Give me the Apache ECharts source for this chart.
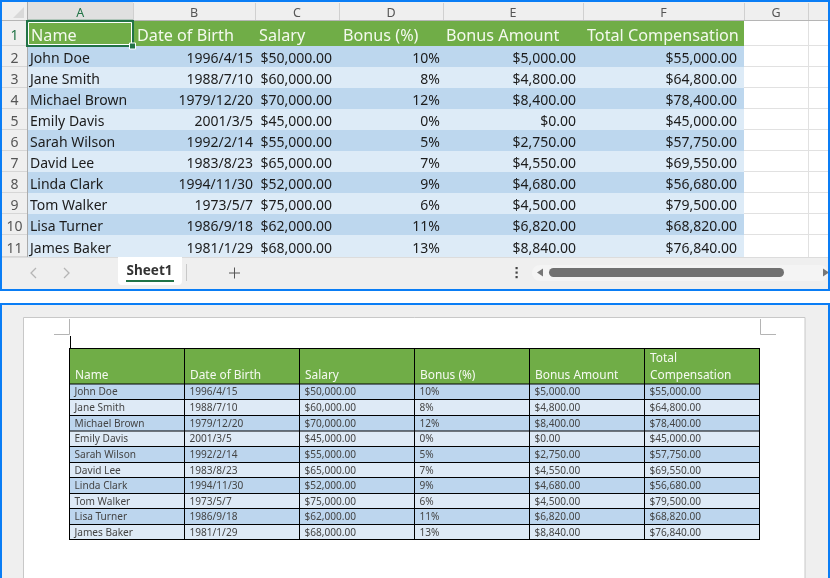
<!DOCTYPE html>
<html><head><meta charset="utf-8">
<style>html,body{margin:0;padding:0;background:#fff}#c{width:830px;height:578px}</style>
<script src="https://cdn.jsdelivr.net/npm/echarts@6/dist/echarts.min.js"></script>
</head><body><div id="c"></div>
<script>
// ---------- data ----------
const headers = ["Name","Date of Birth","Salary","Bonus (%)","Bonus Amount","Total Compensation"];
const names = ["John Doe","Jane Smith","Michael Brown","Emily Davis","Sarah Wilson","David Lee","Linda Clark","Tom Walker","Lisa Turner","James Baker"];
const birthDates = ["1996/4/15","1988/7/10","1979/12/20","2001/3/5","1992/2/14","1983/8/23","1994/11/30","1973/5/7","1986/9/18","1981/1/29"];
const salaries = [50000,60000,70000,45000,55000,65000,52000,75000,62000,68000];
const bonusPct = [10,8,12,0,5,7,9,6,11,13];
const bonusAmount = [5000,4800,8400,0,2750,4550,4680,4500,6820,8840];
const totalComp = [55000,64800,78400,45000,57750,69550,56680,79500,68820,76840];
const colLetters = ["A","B","C","D","E","F","G"];

// ---------- layout ----------
const money = v => "$" + v.toLocaleString("en-US",{minimumFractionDigits:2,maximumFractionDigits:2});
const rowsText = names.map((n,i)=>[n,birthDates[i],money(salaries[i]),bonusPct[i]+"%",money(bonusAmount[i]),money(totalComp[i])]);
const FONT = "'Noto Sans', sans-serif";
const GREEN="#70ad47", DARK="#bdd7ee", LIGHT="#ddebf7", XLG="#217346";

const xlCols=[27.5,133,255,339,443,583,744];
const xlRows=[21,46,67,88,109,130,151,172,193,214,235,257];
const xlHeadX=[31,137,259,343,446,587];
const xlDataX=[30,253,332,440,576,737];
const xlAlign=["left","right","right","right","right","right"];

const wdCols=[69.5,184.5,299.5,414.5,529.5,644.5,759.5];
const wdRows=[348.5,384,399.5,415.5,431,446.5,462.5,477.5,493.5,508.5,524.5,539.5];

function rectEl(api,x0,y0,x1,y1,style){
  const a=api.coord([x0,y0]),b=api.coord([x1,y1]);
  return {type:'rect',shape:{x:a[0],y:a[1],width:b[0]-a[0],height:b[1]-a[1]},style:style};
}
function textEl(api,x,y,t,size,color,align,weight){
  const p=api.coord([x,y]);
  return {type:'text',x:p[0],y:p[1],style:{text:t,fill:color,font:(weight||'normal')+' '+size+'px '+FONT,textAlign:align,textVerticalAlign:'middle'}};
}
function lineEl(api,x0,y0,x1,y1,color,w){
  const a=api.coord([x0,y0]),b=api.coord([x1,y1]);
  return {type:'line',shape:{x1:a[0],y1:a[1],x2:b[0],y2:b[1]},style:{stroke:color,lineWidth:w||1}};
}

function renderExcel(params,api){
  const r=params.dataIndex, kids=[];
  const y0=xlRows[r], y1=xlRows[r+1], n=xlCols.length-1;
  const fill=r===0?GREEN:(r%2?DARK:LIGHT);
  kids.push(rectEl(api,xlCols[0],y0,xlCols[n],y1,{fill}));
  kids.push(rectEl(api,0,y0,27,y1,{fill:'#efefef'}));
  kids.push(lineEl(api,2,y1-0.5,27,y1-0.5,'#d6d6d6'));
  kids.push(textEl(api,14.5,(y0+y1)/2+3,String(r+1),14,r===0?XLG:'#555','center'));
  // empty sheet gridlines
  if(r<xlRows.length-2) kids.push(lineEl(api,744,y1-0.5,828,y1-0.5,'#e1e1e1'));
  kids.push(lineEl(api,808.5,y0,808.5,y1,'#e1e1e1'));
  for(let c=0;c<6;c++){
    if(r===0) kids.push(textEl(api,xlHeadX[c],(y0+y1)/2+3,headers[c],16.2,'#f4f9ee','left'));
    else kids.push(textEl(api,xlDataX[c],(y0+y1)/2+3,rowsText[r-1][c],14,'#1c1c1c',xlAlign[c]));
  }
  return {type:'group',children:kids};
}
function renderWord(params,api){
  const r=params.dataIndex, kids=[];
  const y0=wdRows[r], y1=wdRows[r+1];
  const fill=r===0?GREEN:(r%2?'#bdd6ee':'#deeaf6');
  kids.push(rectEl(api,wdCols[0],y0,wdCols[6],y1,{fill}));
  for(let c=0;c<6;c++){
    const x=wdCols[c]+5.5;
    if(r===0){
      if(c===5){
        kids.push(textEl(api,x,358.5,"Total",11.9,'#f6faf2','left'));
        kids.push(textEl(api,x,375.5,"Compensation",11.9,'#f6faf2','left'));
      } else kids.push(textEl(api,x,375.5,headers[c],11.9,'#f6faf2','left'));
    } else {
      kids.push(textEl(api,x-0.5,(y0+y1)/2+0.8,rowsText[r-1][c],10.1,'#444444','left'));
    }
  }
  return {type:'group',children:kids};
}
function renderWordGrid(params,api){
  const kids=[], i=params.dataIndex;
  if(i<wdRows.length) kids.push(lineEl(api,69,wdRows[i],760,wdRows[i],'#000',1));
  if(i<wdCols.length) kids.push(lineEl(api,wdCols[i],348,wdCols[i],540,'#000',1));
  return {type:'group',children:kids};
}

// ---------- window chrome (not data) ----------
const chrome=[];
const R=(x,y,w,h,fill,extra)=>chrome.push(Object.assign({type:'rect',shape:{x,y,width:w,height:h,r:(extra&&extra.r)||0},style:Object.assign({fill},(extra&&extra.style)||{}),z:(extra&&extra.z)||0},{}));
const L=(x1,y1,x2,y2,stroke,w,z)=>chrome.push({type:'line',shape:{x1,y1,x2,y2},style:{stroke,lineWidth:w||1},z:z||0});
const T=(x,y,text,size,fill,align,weight,z)=>chrome.push({type:'text',x,y,style:{text,fill,font:(weight||'normal')+' '+size+'px '+FONT,textAlign:align||'center',textVerticalAlign:'middle'},z:z||0});
const BLUE='#0a7df5';
// excel
R(0,0,830,291,'#ffffff');
R(2,2,826,19,'#efefef');
R(27.5,2,105.5,19,'#e0e0e0');
chrome.push({type:'polygon',shape:{points:[[24,7],[24,18],[13,18]]},style:{fill:'#d9d9d9'},z:1});
const headEdges=[133,255,339,443,583,744,808];
headEdges.forEach(x=>L(x+.5,3,x+.5,20,'#d0d0d0',1,1));
L(2,20.5,828,20.5,'#b5b5b5',1,1);
L(27.5,2,27.5,257,'#ababab',1,6);
L(28,20.5,133,20.5,XLG,1.5,6);
colLetters.forEach((c,i)=>{const a=[27.5,133,255,339,443,583,744][i],b=[133,255,339,443,583,744,808][i];
  T((a+b)/2,13,c,12.5,i===0?XLG:'#555','center','normal',2);});
// selection
chrome.push({type:'rect',shape:{x:27,y:21,width:106,height:25},style:{fill:'none',stroke:XLG,lineWidth:2},z:8});
chrome.push({type:'rect',shape:{x:28.5,y:22.5,width:103,height:22},style:{fill:'none',stroke:'#ffffff',lineWidth:1},z:8});
R(129.5,43,6,6,XLG,{z:9,style:{stroke:'#fff',lineWidth:1}});
// tab bar
R(2,257,826,32,'#efefef',{z:5});
L(2,257.5,828,257.5,'#dcdcdc',1,5);
const pl=(pts,stroke,w)=>chrome.push({type:'polyline',shape:{points:pts},style:{stroke,lineWidth:w||1,fill:'none'},z:6});
pl([[36,268],[31,273],[36,278]],'#b5b5b5',1.3);
pl([[64,268],[69,273],[64,278]],'#b5b5b5',1.3);
R(118,257,64,28,'#ffffff',{r:[0,0,4,4],z:6});
T(149.5,271,'Sheet1',13.5,'#333','center','bold',7);
R(126,280,48,2,XLG,{z:7});
L(186.5,264,186.5,281,'#c8c8c8',1,6);
L(229,273,240,273,'#555',1,6);L(234.5,267.5,234.5,278.5,'#555',1,6);
[268,272.5,277].forEach(y=>R(515.5,y-1,2.2,2.2,'#444',{z:6}));
R(532,265,296,16,'#f4f4f4',{r:8,z:6});
chrome.push({type:'polygon',shape:{points:[[537,272.5],[543,268.5],[543,276.5]]},style:{fill:'#777'},z:7});
R(549,268,235,9,'#717171',{r:4.5,z:7});
chrome.push({type:'polygon',shape:{points:[[829,272.5],[823,268.5],[823,276.5]]},style:{fill:'#777'},z:7});
// word
R(0,303,830,275,'#efefef');
chrome.push({type:'rect',shape:{x:23.5,y:317.5,width:781.5,height:270},style:{fill:'#ffffff',stroke:'#c8c8c8',lineWidth:1},z:1});
pl([[69.5,319],[69.5,334.5],[54,334.5]],'#b4b4b4',1);
pl([[760.5,319],[760.5,334.5],[776,334.5]],'#b4b4b4',1);
L(70.5,336,70.5,348,'#000',1,6);
// blue frames
const frame=(x,y,w,h)=>chrome.push({type:'rect',shape:{x,y,width:w,height:h},style:{fill:'none',stroke:BLUE,lineWidth:2},z:20});
frame(1,1,828,289);
frame(1,304,828,280);

const chart=echarts.init(document.getElementById('c'),null,{renderer:'canvas'});
chart.setOption({
  animation:false,
  backgroundColor:'#ffffff',
  grid:{left:0,right:0,top:0,bottom:0,containLabel:false},
  xAxis:{type:'value',min:0,max:830,show:false},
  yAxis:{type:'value',min:0,max:578,inverse:true,show:false},
  graphic:{elements:chrome},
  series:[
    {type:'custom',coordinateSystem:'cartesian2d',clip:false,silent:true,z:3,renderItem:renderExcel,
     data:xlRows.slice(1).map((v,i)=>[i,v])},
    {type:'custom',coordinateSystem:'cartesian2d',clip:false,silent:true,z:3,renderItem:renderWord,
     data:wdRows.slice(1).map((v,i)=>[i,v])},
    {type:'custom',coordinateSystem:'cartesian2d',clip:false,silent:true,z:4,renderItem:renderWordGrid,
     data:wdRows.map((v,i)=>[i,v])}
  ]
});
</script></body></html>
